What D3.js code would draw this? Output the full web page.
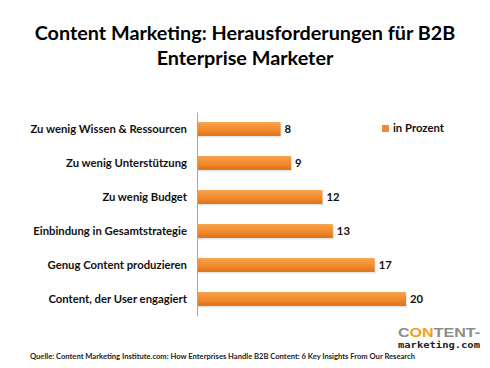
<!DOCTYPE html>
<html>
<head>
<meta charset="utf-8">
<script src="https://cdn.jsdelivr.net/npm/d3@7"></script>
<style>
  body { margin: 0; background: #fff; }
  svg { display: block; }
</style>
</head>
<body>
<div id="chart"></div>
<script>
var categories = [
    "Zu wenig Wissen & Ressourcen",
    "Zu wenig Unterstützung",
    "Zu wenig Budget",
    "Einbindung in Gesamtstrategie",
    "Genug Content produzieren",
    "Content, der User engagiert"
];
var values = [8, 9, 12, 13, 17, 20];
var seriesName = "in Prozent";
var titleLines = ["Content Marketing: Herausforderungen für B2B", "Enterprise Marketer"];
var sourceText = "Quelle: Content Marketing Institute.com: How Enterprises Handle B2B Content: 6 Key Insights From Our Research";

var svgWidth = 490;
var svgHeight = 368;
var font = "Lato, 'Open Sans', sans-serif";

var svg = d3.select("#chart")
    .append("svg")
    .attr("width", svgWidth)
    .attr("height", svgHeight);

var defs = svg.append("defs");
var grad = defs.append("linearGradient")
    .attr("id", "barGrad")
    .attr("x1", 0).attr("y1", 0).attr("x2", 0).attr("y2", 1);
grad.append("stop").attr("offset", "0%").attr("stop-color", "#f9a24c");
grad.append("stop").attr("offset", "55%").attr("stop-color", "#f28a2d");
grad.append("stop").attr("offset", "100%").attr("stop-color", "#dc7119");

// title
svg.append("g").selectAll("text")
    .data(titleLines)
    .enter().append("text")
    .attr("x", 245)
    .attr("y", (d, i) => 40 + i * 25)
    .attr("text-anchor", "middle")
    .attr("font-family", font)
    .attr("font-weight", "bold")
    .attr("font-size", 19.8)
    .attr("fill", "#000")
    .text(d => d);

var x = d3.scaleLinear()
    .domain([0, 20])
    .range([197, 406]);

var y = d3.scaleBand()
    .domain(categories)
    .range([112, 316])
    .paddingInner(0.59)
    .paddingOuter(0.295);

// bars (with a soft shadow)
var bars = svg.append("g").selectAll("g.bar")
    .data(values)
    .enter().append("g")
    .attr("class", "bar");

bars.append("rect")
    .attr("x", x(0) + 1)
    .attr("y", (d, i) => y(categories[i]) + 1.5)
    .attr("width", d => x(d) - x(0))
    .attr("height", y.bandwidth())
    .attr("fill", "#d8d8d8")
    .attr("opacity", 0.7);

bars.append("rect")
    .attr("x", x(0))
    .attr("y", (d, i) => y(categories[i]))
    .attr("width", d => x(d) - x(0))
    .attr("height", y.bandwidth())
    .attr("fill", "url(#barGrad)");

bars.append("text")
    .attr("x", d => x(d) + 4)
    .attr("y", (d, i) => y(categories[i]) + y.bandwidth() / 2)
    .attr("dy", "0.36em")
    .attr("font-family", font)
    .attr("font-weight", "bold")
    .attr("font-size", 11.3)
    .attr("fill", "#111")
    .text(d => d);

// category axis
var leftAxis = d3.axisLeft(y).tickSize(0).tickPadding(10);
var yAxis = svg.append("g")
    .attr("transform", `translate(${x(0)}, 0)`)
    .call(leftAxis);
yAxis.select(".domain").attr("stroke", "#a6a6a6");
yAxis.selectAll("text")
    .attr("font-family", font)
    .attr("font-weight", "bold")
    .attr("font-size", 11.3)
    .attr("fill", "#111");

// legend
var legend = svg.append("g").attr("transform", "translate(382, 125)");
legend.append("rect")
    .attr("width", 7).attr("height", 7)
    .attr("fill", "#f08a30");
legend.append("text")
    .attr("x", 11).attr("y", 7)
    .attr("font-family", font)
    .attr("font-weight", "bold")
    .attr("font-size", 11.3)
    .attr("fill", "#111")
    .text(seriesName);

// logo
var logo = svg.append("text")
    .attr("x", 398).attr("y", 336.5)
    .attr("font-family", "'Liberation Sans', Arial, sans-serif")
    .attr("font-weight", "bold")
    .attr("font-size", 12)
    .attr("textLength", 82)
    .attr("lengthAdjust", "spacingAndGlyphs");
logo.append("tspan").attr("fill", "#8c8c8c").text("C");
logo.append("tspan").attr("fill", "#f39c1a").text("ON");
logo.append("tspan").attr("fill", "#8c8c8c").text("TENT-");

svg.append("text")
    .attr("x", 398).attr("y", 348)
    .attr("font-family", "'DejaVu Sans Mono', monospace")
    .attr("font-weight", "bold")
    .attr("font-size", 9)
    .attr("textLength", 82)
    .attr("lengthAdjust", "spacingAndGlyphs")
    .attr("fill", "#222")
    .text("marketing.com");

// source
svg.append("text")
    .attr("x", 30).attr("y", 359)
    .attr("font-family", font)
    .attr("font-weight", "bold")
    .attr("font-size", 7.5)
    .attr("textLength", 385)
    .attr("lengthAdjust", "spacingAndGlyphs")
    .attr("fill", "#222")
    .text(sourceText);
</script>
</body>
</html>
